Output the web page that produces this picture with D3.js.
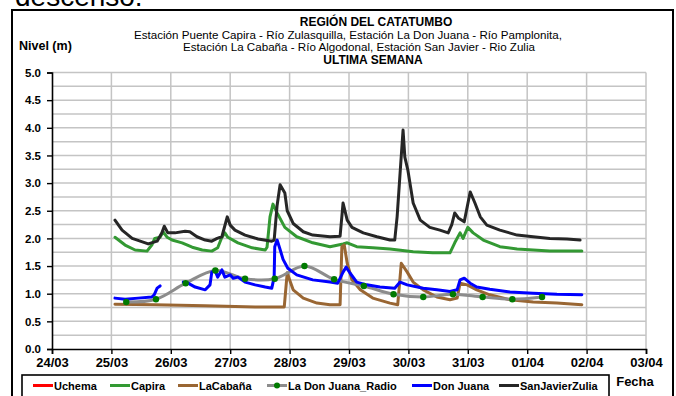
<!DOCTYPE html>
<html>
<head>
<meta charset="utf-8">
<script src="https://cdn.jsdelivr.net/npm/d3@7/dist/d3.min.js"></script>
<style>
  html, body { margin: 0; padding: 0; background: #fff; }
  svg { display: block; font-family: "Liberation Sans", Arial, sans-serif; }
</style>
</head>
<body>
<svg id="chart" width="676" height="396"></svg>
<script>
// ---- data: level (m) per station, time as days after 24/03 00:00 ----
const seriesNames = ["Uchema", "Capira", "LaCabaña", "La Don Juana_Radio", "Don Juana", "SanJavierZulia"];
const xTickLabels = ["24/03", "25/03", "26/03", "27/03", "28/03", "29/03", "30/03", "31/03", "01/04", "02/04", "03/04"];
const yTickLabels = ["0.0", "0.5", "1.0", "1.5", "2.0", "2.5", "3.0", "3.5", "4.0", "4.5", "5.0"];
const yTickValues = [0, 0.5, 1, 1.5, 2, 2.5, 3, 3.5, 4, 4.5, 5];

const uchema = [];

const capira = [
  [1.06, 2.02], [1.23, 1.88], [1.40, 1.79], [1.60, 1.77], [1.68, 1.88], [1.73, 2.00], [1.82, 2.02],
  [1.87, 2.12], [1.94, 2.02], [2.02, 1.97], [2.19, 1.92], [2.36, 1.84], [2.53, 1.79], [2.69, 1.77],
  [2.79, 1.83], [2.86, 2.02], [2.91, 2.10], [2.96, 2.02], [3.13, 1.92], [3.37, 1.83], [3.59, 1.79],
  [3.62, 1.84], [3.67, 2.39], [3.72, 2.62], [3.79, 2.46], [3.92, 2.20], [4.12, 2.03], [4.39, 1.92],
  [4.68, 1.85], [4.90, 1.90], [4.97, 1.92], [5.13, 1.85], [5.40, 1.83], [5.69, 1.81], [6.08, 1.76],
  [6.41, 1.74], [6.70, 1.74], [6.78, 1.92], [6.87, 2.10], [6.92, 2.00], [7.00, 2.20], [7.09, 2.10],
  [7.26, 1.97], [7.54, 1.85], [7.83, 1.81], [8.10, 1.79], [8.38, 1.77], [8.92, 1.77]
];

const laCabana = [
  [1.06, 0.81], [1.73, 0.80], [2.58, 0.78], [3.42, 0.76], [3.91, 0.76], [3.96, 1.38], [4.01, 1.22],
  [4.06, 1.07], [4.23, 0.92], [4.46, 0.83], [4.68, 0.80], [4.85, 0.80], [4.88, 1.85], [4.92, 1.88],
  [4.97, 1.55], [5.05, 1.25], [5.19, 1.07], [5.40, 0.92], [5.69, 0.83], [5.82, 0.80], [5.88, 1.55],
  [5.98, 1.39], [6.08, 1.21], [6.25, 1.07], [6.48, 0.94], [6.70, 0.89], [6.82, 0.92], [6.87, 1.19],
  [6.99, 1.16], [7.15, 1.07], [7.37, 0.98], [7.71, 0.89], [8.10, 0.85], [8.50, 0.83], [8.92, 0.80]
];

const donJuanaRadio = [
  [1.25, 0.85], [1.75, 0.90], [2.25, 1.19], [2.75, 1.42], [3.25, 1.27], [3.75, 1.27], [4.25, 1.50],
  [4.75, 1.26], [5.25, 1.14], [5.75, 0.99], [6.25, 0.94], [6.75, 0.99], [7.25, 0.94], [7.75, 0.90],
  [8.25, 0.94]
];

// null marks the break in the record on 26/03
const donJuana = [
  [1.06, 0.92], [1.23, 0.90], [1.45, 0.92], [1.68, 0.94], [1.72, 0.98], [1.77, 1.10], [1.82, 1.14],
  [2.00, null],
  [2.21, 1.21], [2.29, 1.19], [2.41, 1.12], [2.58, 1.07], [2.66, 1.16], [2.69, 1.39], [2.74, 1.43],
  [2.79, 1.30], [2.86, 1.43], [2.91, 1.30], [3.00, 1.34], [3.05, 1.28], [3.13, 1.30], [3.25, 1.21],
  [3.42, 1.16], [3.59, 1.12], [3.70, 1.10], [3.74, 1.30], [3.75, 1.85], [3.79, 1.97], [3.84, 1.80],
  [3.89, 1.62], [3.97, 1.46], [4.12, 1.34], [4.39, 1.25], [4.68, 1.21], [4.81, 1.19], [4.90, 1.39],
  [4.95, 1.48], [5.02, 1.37], [5.13, 1.21], [5.30, 1.16], [5.52, 1.12], [5.77, 1.10], [5.86, 1.21],
  [5.98, 1.16], [6.25, 1.10], [6.48, 1.07], [6.70, 1.04], [6.82, 1.07], [6.87, 1.25], [6.94, 1.28],
  [7.04, 1.19], [7.15, 1.12], [7.37, 1.08], [7.71, 1.03], [8.10, 1.01], [8.50, 0.99], [8.92, 0.98]
];

const sanJavierZulia = [
  [1.06, 2.33], [1.18, 2.15], [1.35, 2.00], [1.62, 1.90], [1.77, 1.95], [1.85, 2.10], [1.89, 2.22],
  [1.95, 2.10], [2.07, 2.10], [2.24, 2.13], [2.32, 2.12], [2.44, 2.03], [2.58, 1.97], [2.69, 1.95],
  [2.78, 2.00], [2.86, 2.03], [2.95, 2.39], [3.00, 2.24], [3.08, 2.15], [3.25, 2.06], [3.47, 1.99],
  [3.70, 1.95], [3.74, 1.97], [3.79, 2.60], [3.84, 2.97], [3.92, 2.82], [3.96, 2.50], [4.06, 2.27],
  [4.23, 2.12], [4.39, 2.06], [4.68, 2.03], [4.85, 2.04], [4.88, 2.40], [4.90, 2.64], [4.97, 2.33],
  [5.05, 2.20], [5.24, 2.10], [5.47, 2.03], [5.69, 1.97], [5.77, 1.97], [5.81, 2.39], [5.86, 3.18],
  [5.91, 3.96], [5.94, 3.47], [5.99, 3.24], [6.08, 2.64], [6.20, 2.33], [6.36, 2.20], [6.53, 2.15],
  [6.67, 2.10], [6.73, 2.25], [6.78, 2.46], [6.84, 2.37], [6.94, 2.30], [7.04, 2.84], [7.12, 2.64],
  [7.21, 2.39], [7.32, 2.24], [7.54, 2.15], [7.83, 2.06], [8.10, 2.03], [8.38, 2.00], [8.67, 1.99],
  [8.89, 1.97]
];

// ---- styling ----
const colors = {
  "Uchema": "#ff0000",
  "Capira": "#339933",
  "LaCabaña": "#996633",
  "La Don Juana_Radio": "#8c8c8c",
  "Don Juana": "#0000ff",
  "SanJavierZulia": "#262626"
};
const markerColor = "#007a00";
const gridColor = "#c4c4c4";
const font = '"Liberation Sans", Arial, sans-serif';

const svg = d3.select("#chart");
const W = 676, H = 396;
svg.append("rect").attr("width", W).attr("height", H).attr("fill", "#fff");

// page text above the chart frame, partly cut off
svg.append("text")
  .attr("x", 15).attr("y", 6)
  .attr("font-size", 28).attr("fill", "#000")
  .text("descenso.");

// chart frame
svg.append("rect")
  .attr("x", 12).attr("y", 10).attr("width", 661).attr("height", 400)
  .attr("fill", "#fff").attr("stroke", "#000").attr("stroke-width", 2);

// ---- scales ----
const t0 = Date.UTC(2024, 2, 24);
const toDate = d => new Date(t0 + d * 864e5);
const x = d3.scaleUtc().domain([toDate(0), toDate(10)]).range([52, 646]);
const y = d3.scaleLinear().domain([0, 5]).range([349, 72.5]);

// ---- grid ----
const grid = svg.append("g");
grid.selectAll("line.h")
  .data(d3.range(1, 21).map(i => i * 0.25))
  .join("line")
  .attr("x1", x.range()[0]).attr("x2", x.range()[1])
  .attr("y1", d => y(d)).attr("y2", d => y(d))
  .attr("stroke", gridColor).attr("stroke-width", 1.5);
grid.selectAll("line.v")
  .data(x.ticks(d3.utcDay.every(1)).slice(1))
  .join("line")
  .attr("x1", d => x(d)).attr("x2", d => x(d))
  .attr("y1", y(0)).attr("y2", y(5))
  .attr("stroke", gridColor).attr("stroke-width", 1.5);

// ---- series ----
const line = d3.line()
  .defined(d => d[1] !== null)
  .x(d => x(toDate(d[0])))
  .y(d => y(d[1]));
const smoothLine = d3.line()
  .x(d => x(toDate(d[0])))
  .y(d => y(d[1]))
  .curve(d3.curveCatmullRom.alpha(0.5));

const plot = svg.append("g").attr("fill", "none")
  .attr("stroke-linejoin", "round").attr("stroke-linecap", "round");

const drawSeries = [
  ["Uchema", uchema, line],
  ["Capira", capira, line],
  ["LaCabaña", laCabana, line],
  ["La Don Juana_Radio", donJuanaRadio, smoothLine],
  ["Don Juana", donJuana, line],
  ["SanJavierZulia", sanJavierZulia, line]
];
drawSeries.forEach(([name, data, gen]) => {
  if (!data.length) return;
  plot.append("path")
    .attr("d", gen(data))
    .attr("stroke", colors[name])
    .attr("stroke-width", 3);
  if (name === "La Don Juana_Radio") {
    svg.append("g").selectAll("circle")
      .data(data).join("circle")
      .attr("cx", d => x(toDate(d[0])))
      .attr("cy", d => y(d[1]))
      .attr("r", 3.2)
      .attr("fill", markerColor);
  }
});

// ---- axes ----
const yAxis = svg.append("g")
  .attr("transform", `translate(${x.range()[0]},0)`)
  .call(d3.axisLeft(y).tickValues(yTickValues)
    .tickFormat((d, i) => yTickLabels[i]).tickSize(5).tickPadding(6));
const xAxis = svg.append("g")
  .attr("transform", `translate(0,${y(0)})`)
  .call(d3.axisBottom(x).ticks(d3.utcDay.every(1))
    .tickFormat((d, i) => xTickLabels[i]).tickSize(5).tickPadding(4));
[yAxis, xAxis].forEach(a => {
  a.select(".domain").attr("stroke", "#000").attr("stroke-width", 1.6);
  a.selectAll(".tick line").attr("stroke", "#000").attr("stroke-width", 1.4);
  a.selectAll("text").attr("font-family", font).attr("font-weight", "bold").attr("fill", "#000");
});
yAxis.selectAll("text").attr("font-size", 11.5);
xAxis.selectAll("text").attr("font-size", 13);

// ---- titles ----
const titles = [
  { text: "REGIÓN DEL CATATUMBO", x: 376, y: 25.5, bold: true, size: 12 },
  { text: "Estación Puente Capira - Río Zulasquilla, Estación La Don Juana - Río Pamplonita,", x: 348, y: 38.6, bold: false, size: 11.6 },
  { text: "Estación La Cabaña - Río Algodonal, Estación San Javier - Rio Zulia", x: 359, y: 50.8, bold: false, size: 11.6 },
  { text: "ULTIMA SEMANA", x: 373, y: 63.5, bold: true, size: 12 }
];
svg.append("g").selectAll("text").data(titles).join("text")
  .attr("x", d => d.x).attr("y", d => d.y)
  .attr("text-anchor", "middle")
  .attr("font-size", d => d.size)
  .attr("font-weight", d => d.bold ? "bold" : "normal")
  .attr("fill", "#000")
  .text(d => d.text);

svg.append("text")
  .attr("x", 19).attr("y", 50)
  .attr("font-size", 12.5).attr("font-weight", "bold")
  .text("Nivel (m)");

svg.append("text")
  .attr("x", 635).attr("y", 386)
  .attr("text-anchor", "middle")
  .attr("font-size", 13).attr("font-weight", "bold")
  .text("Fecha");

// ---- legend ----
const legend = svg.append("g");
legend.append("rect")
  .attr("x", 22).attr("y", 375).attr("width", 587).attr("height", 40)
  .attr("fill", "#fff").attr("stroke", "#000").attr("stroke-width", 1.6);
const legendX = [33, 110, 178, 267, 412, 499];
const item = legend.selectAll("g.item").data(seriesNames).join("g")
  .attr("transform", (d, i) => `translate(${legendX[i]},385.5)`);
item.append("line")
  .attr("x1", 0).attr("x2", 20)
  .attr("stroke", d => colors[d]).attr("stroke-width", 3);
item.filter(d => d === "La Don Juana_Radio").append("circle")
  .attr("cx", 10).attr("r", 3).attr("fill", markerColor);
item.append("text")
  .attr("x", 21).attr("y", 4)
  .attr("font-size", 11).attr("font-weight", "bold")
  .text(d => d);
</script>
</body>
</html>
